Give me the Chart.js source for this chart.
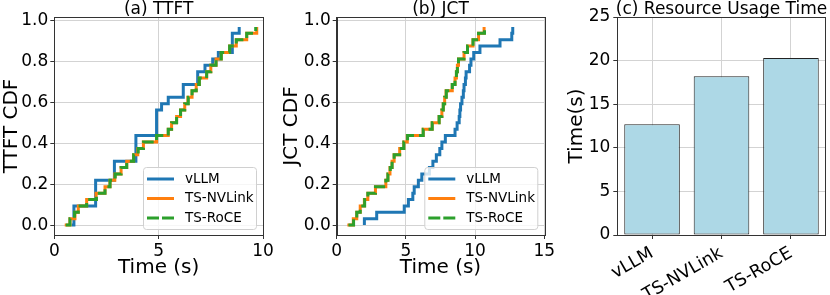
<!DOCTYPE html>
<html>
<head>
<meta charset="utf-8">
<script src="https://cdn.jsdelivr.net/npm/chart.js@4.4.0/dist/chart.umd.min.js"></script>
<style>
  html, body { margin: 0; padding: 0; background: #fff; }
  #wrap { position: relative; width: 830px; height: 295px; overflow: hidden; background: #fff; }
  #wrap canvas { position: absolute; top: 0; }
</style>
</head>
<body>
<div id="wrap">
  <canvas id="ttft" width="280" height="295" style="left:0px"></canvas>
  <canvas id="jct" width="280" height="295" style="left:280px"></canvas>
  <canvas id="usage" width="270" height="295" style="left:560px"></canvas>
</div>
<script>
const seriesNames = ['vLLM', 'TS-NVLink', 'TS-RoCE'];
const seriesColors = ['#1f77b4', '#ff7f0e', '#2ca02c'];

// per-request times (s), sorted
const ttftVllm = [0.83, 0.94, 0.94, 0.94, 1.98, 1.98, 1.98, 1.98, 2.88, 2.88, 2.88,
  3.91, 3.91, 3.91, 3.91, 4.9, 4.9, 4.9, 4.9, 5.14, 5.46, 6.18, 6.18, 6.87, 6.87,
  7.22, 7.59, 7.86, 8.53, 8.53, 8.53, 8.86];
const ttftNvlink = [0.5, 0.75, 0.99, 1.15, 1.55, 2.0, 2.43, 2.67, 2.9, 3.2, 3.47,
  3.8, 4.0, 4.27, 4.9, 5.46, 5.62, 5.86, 6.05, 6.25, 6.4, 6.6, 6.8, 6.95, 7.3,
  7.5, 7.75, 8.0, 8.4, 8.72, 9.22, 9.7];
const ttftRoce = [0.55, 0.75, 0.97, 1.15, 1.55, 2.02, 2.43, 2.67, 2.92, 3.2, 3.47,
  3.8, 4.02, 4.27, 4.9, 5.46, 5.62, 5.86, 6.05, 6.25, 6.42, 6.6, 6.8, 6.95, 7.3,
  7.5, 7.75, 8.0, 8.4, 8.72, 9.22, 9.65];

const jctVllm = [2.0, 2.0, 2.89, 4.88, 5.18, 5.5, 5.6, 5.9, 6.15, 6.7, 6.95, 7.2,
  7.45, 7.6, 7.85, 8.55, 8.7, 8.85, 8.9, 8.95, 9.05, 9.15, 9.2, 9.3, 9.35, 9.6,
  9.7, 9.9, 10.35, 11.8, 12.65, 12.72];
const jctNvlink = [0.77, 1.2, 1.45, 1.7, 2.0, 2.25, 2.8, 3.55, 3.7, 3.85, 4.0,
  4.15, 4.55, 4.85, 5.1, 6.25, 6.9, 7.4, 7.6, 7.7, 7.8, 7.9, 8.35, 8.55, 8.65,
  8.72, 8.8, 9.2, 9.45, 9.85, 10.25, 10.65];
const jctRoce = [0.85, 1.22, 1.45, 1.7, 2.02, 2.25, 2.8, 3.55, 3.7, 3.87, 4.0,
  4.15, 4.55, 4.85, 5.12, 6.25, 6.9, 7.4, 7.6, 7.7, 7.8, 7.92, 8.35, 8.55, 8.65,
  8.72, 8.8, 9.2, 9.45, 9.85, 10.25, 10.68];

const usageCategories = ['vLLM', 'TS-NVLink', 'TS-RoCE'];
const usageTimes = [12.7, 18.2, 20.3];

const cdfTicks = [0, 0.2, 0.4, 0.6, 0.8, 1.0];
const ttftTimeTicks = [0, 5, 10];
const jctTimeTicks = [0, 5, 10, 15];
const usageTicks = [0, 5, 10, 15, 20, 25];

const FONT = '"DejaVu Sans", sans-serif';
const GRID = '#d3d3d3';
const SPINE = '#333';

Chart.defaults.font.family = FONT;
Chart.defaults.color = '#000';

// title centred over the plot area, frame on all four sides
const panelTitle = {
  id: 'panelTitle',
  afterDraw(chart, args, opts) {
    const { ctx, chartArea: a } = chart;
    ctx.save();
    ctx.strokeStyle = SPINE;
    ctx.lineWidth = 1;
    ctx.strokeRect(Math.round(a.left) + 0.5, Math.round(a.top) + 0.5,
      Math.round(a.right - a.left), Math.round(a.bottom - a.top));
    ctx.font = '17px ' + FONT;
    ctx.fillStyle = '#000';
    ctx.textAlign = 'center';
    ctx.textBaseline = 'alphabetic';
    ctx.fillText(opts.text, (a.left + a.right) / 2, 14);
    ctx.restore();
  }
};

// matplotlib-like legend box in the lower right of the axes
const insideLegend = {
  id: 'insideLegend',
  afterDatasetsDraw(chart) {
    const { ctx, chartArea: a } = chart;
    const w = 113, h = 62;
    const x = a.right - 7 - w, y = a.bottom - 6 - h;
    ctx.save();
    ctx.beginPath();
    ctx.roundRect(x + 0.5, y + 0.5, w, h, 3);
    ctx.fillStyle = 'rgba(255,255,255,0.8)';
    ctx.fill();
    ctx.strokeStyle = '#d0d0d0';
    ctx.lineWidth = 1;
    ctx.stroke();
    ctx.font = '13.5px ' + FONT;
    ctx.textBaseline = 'middle';
    seriesNames.forEach((name, k) => {
      const ry = y + 12 + k * 19.5;
      ctx.beginPath();
      ctx.strokeStyle = seriesColors[k];
      ctx.lineWidth = 3;
      ctx.setLineDash(k === 2 ? [12, 3] : []);
      ctx.moveTo(x + 4, ry);
      ctx.lineTo(x + 31, ry);
      ctx.stroke();
      ctx.setLineDash([]);
      ctx.fillStyle = '#000';
      ctx.fillText(name, x + 42, ry);
    });
    ctx.restore();
  }
};

function cdfChart(id, title, yLabel, xMax, xTicks, axisWidth, rightPad, times) {
  return new Chart(document.getElementById(id), {
    type: 'line',
    data: {
      datasets: times.map((t, k) => ({
        label: seriesNames[k],
        data: t.map((x, i) => ({ x: x, y: i / t.length })),
        borderColor: seriesColors[k],
        borderWidth: 3,
        borderDash: k === 2 ? [11, 5] : [],
        stepped: 'before',
        pointRadius: 0,
        fill: false,
        order: 3 - k
      }))
    },
    options: {
      responsive: false,
      animation: false,
      devicePixelRatio: 1,
      layout: { padding: { top: 17, right: rightPad, left: 0, bottom: 0 } },
      plugins: {
        legend: { display: false },
        tooltip: { enabled: false },
        panelTitle: { text: title }
      },
      scales: {
        x: {
          type: 'linear',
          min: 0,
          max: xMax,
          afterBuildTicks: s => { s.ticks = xTicks.map(v => ({ value: v })); },
          afterFit: s => { s.height = 60; },
          grid: { color: GRID, lineWidth: 1, tickLength: 4, tickColor: SPINE },
          border: { color: SPINE, width: 1 },
          ticks: { font: { size: 17 }, padding: 2, maxRotation: 0, color: '#000' },
          title: { display: true, text: 'Time (s)', font: { size: 20 }, color: '#000',
                   padding: { top: 0, bottom: 15 } }
        },
        y: {
          type: 'linear',
          min: -0.0484,
          max: 1.0172,
          afterBuildTicks: s => { s.ticks = cdfTicks.map(v => ({ value: v })); },
          afterFit: s => { s.width = axisWidth; },
          grid: { color: GRID, lineWidth: 1, tickLength: 4, tickColor: SPINE },
          border: { color: SPINE, width: 1 },
          ticks: { font: { size: 17 }, padding: 2, color: '#000',
                   callback: v => v.toFixed(1) },
          title: { display: true, text: yLabel, font: { size: 20 }, color: '#000',
                   padding: { top: 0, bottom: 0 } }
        }
      }
    },
    plugins: [panelTitle, insideLegend]
  });
}

cdfChart('ttft', '(a) TTFT', 'TTFT CDF', 10, ttftTimeTicks, 54.3, 17,
  [ttftVllm, ttftNvlink, ttftRoce]);
cdfChart('jct', '(b) JCT', 'JCT CDF', 15, jctTimeTicks, 56.7, 15.7,
  [jctVllm, jctNvlink, jctRoce]);

new Chart(document.getElementById('usage'), {
  type: 'bar',
  data: {
    labels: usageCategories,
    datasets: [{
      data: usageTimes,
      backgroundColor: '#add8e6',
      borderColor: '#222',
      borderWidth: 1,
      borderSkipped: false,
      barPercentage: 0.8,
      categoryPercentage: 1
    }]
  },
  options: {
    responsive: false,
    animation: false,
    devicePixelRatio: 1,
    layout: { padding: { top: 17, right: 4.3, left: 0, bottom: 0 } },
    plugins: {
      legend: { display: false },
      tooltip: { enabled: false },
      panelTitle: { text: '(c) Resource Usage Time' }
    },
    scales: {
      x: {
        afterFit: s => { s.height = 60; },
        grid: { offset: false, color: GRID, lineWidth: 1, tickLength: 4, tickColor: SPINE },
        border: { color: SPINE, width: 1 },
        ticks: { font: { size: 17.5 }, padding: 4, minRotation: 30, maxRotation: 30,
                 autoSkip: false, color: '#000' }
      },
      y: {
        min: 0,
        max: 25,
        afterBuildTicks: s => { s.ticks = usageTicks.map(v => ({ value: v })); },
        afterFit: s => { s.width = 57.3; },
        grid: { color: GRID, lineWidth: 1, tickLength: 4, tickColor: SPINE },
        border: { color: SPINE, width: 1 },
        ticks: { font: { size: 17 }, padding: 3, color: '#000' },
        title: { display: true, text: 'Time(s)', font: { size: 20 }, color: '#000',
                 padding: { top: 5, bottom: 0 } }
      }
    }
  },
  plugins: [panelTitle]
});
</script>
</body>
</html>
